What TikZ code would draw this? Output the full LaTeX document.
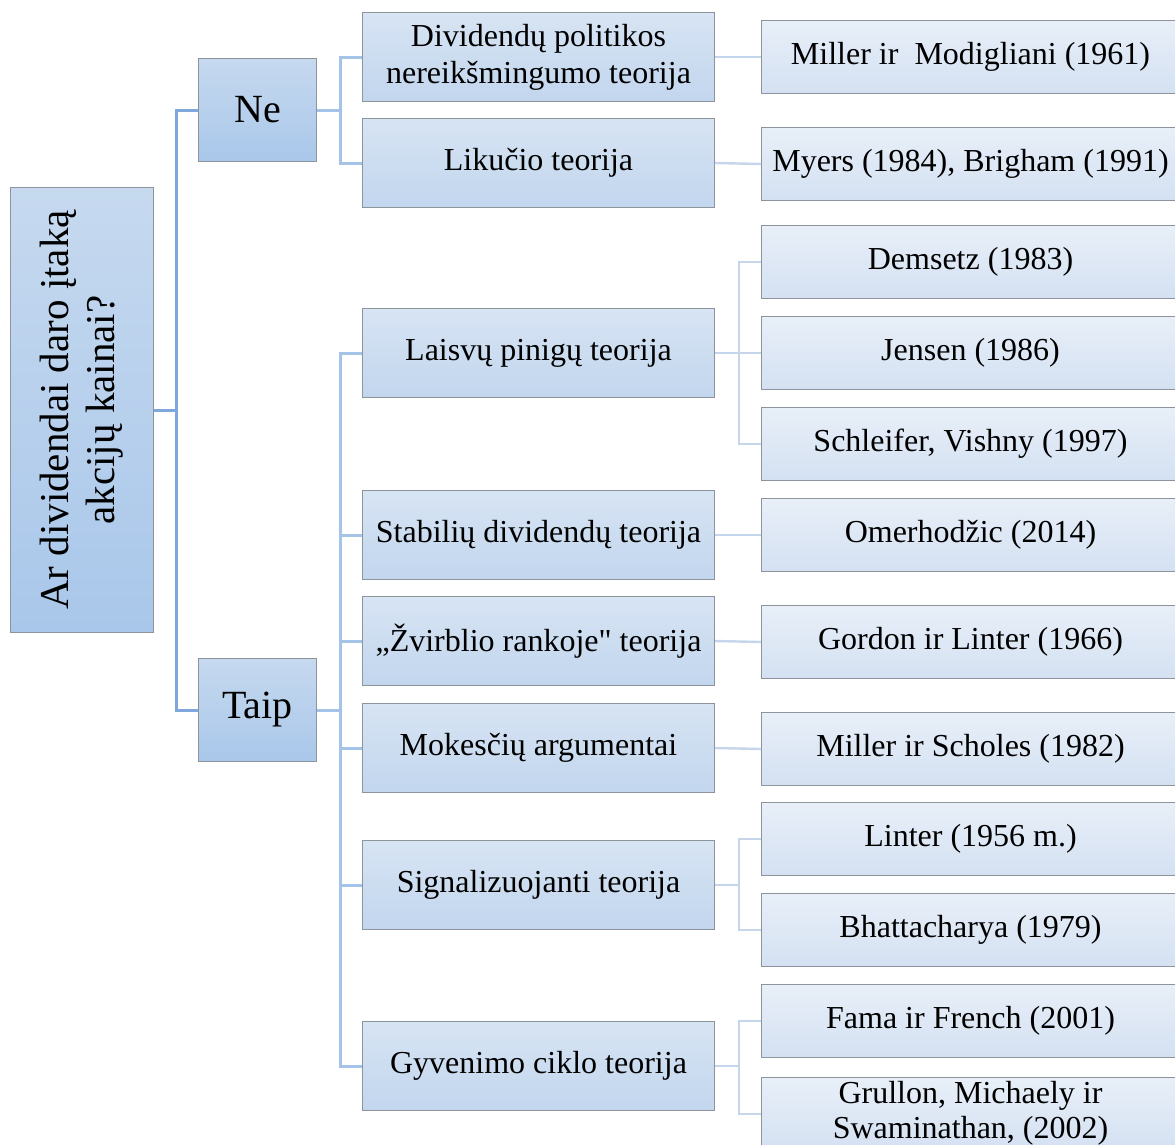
\documentclass[tikz,border=0pt]{standalone}
\usepackage{fontspec}
\setmainfont{Liberation Serif}[Ligatures=TeXOff]
\usepackage{graphicx}
\definecolor{bord}{HTML}{8E949C}
\definecolor{conetop}{HTML}{C6D9EF}
\definecolor{conebot}{HTML}{A9C7EA}
\definecolor{ctwotop}{HTML}{D7E4F3}
\definecolor{ctwobot}{HTML}{C2D6EE}
\definecolor{cthrtop}{HTML}{E8EFF8}
\definecolor{cthrbot}{HTML}{D4E1F2}
\definecolor{lnone}{HTML}{7EA8DB}
\definecolor{lntwo}{HTML}{A5C2E7}
\definecolor{lnthr}{HTML}{C4D5EC}
\begin{document}
\begin{tikzpicture}[x=1pt,y=-1pt,
  box/.style={draw=bord, line width=1pt, anchor=north west, inner sep=2pt, align=center, text=black},
  rootbox/.style={box, top color=conetop, bottom color=conebot, minimum width=143pt, minimum height=445pt, font=\fontsize{41}{46}\selectfont},
  onebox/.style={box, top color=conetop, bottom color=conebot, minimum width=118pt, minimum height=103pt, font=\fontsize{40}{46}\selectfont},
  twobox/.style={box, top color=ctwotop, bottom color=ctwobot, minimum width=352pt, minimum height=89pt, font=\fontsize{32}{37}\selectfont},
  thrbox/.style={box, top color=cthrtop, bottom color=cthrbot, minimum width=418pt, minimum height=73pt, font=\fontsize{32}{37}\selectfont},
  plaintxt/.style={inner sep=0pt, align=center, text=black, font=\fontsize{32}{35}\selectfont},
  lineone/.style={draw=lnone, line width=3pt},
  linetwo/.style={draw=lntwo, line width=3pt},
  linethr/.style={draw=lnthr, line width=2.4pt}
]
\useasboundingbox (0,0) rectangle (1175,1144);

% root
\node[rootbox] (root) at (10,187) {\rotatebox{90}{\begin{tabular}{@{}c@{}}Ar dividendai daro įtaką\\akcijų kainai?\end{tabular}}};

% level 1
\node[onebox] (ne) at (198,58) {Ne};
\node[onebox] (taip) at (198,658) {Taip};

% level 2
\node[twobox] (div) at (362,12) {Dividendų politikos\\nereikšmingumo teorija};
\node[twobox] (lik) at (362,118) {Likučio teorija};
\node[twobox] (lp) at (362,308) {Laisvų pinigų teorija};
\node[twobox] (stab) at (362,490) {Stabilių dividendų teorija};
\node[twobox] (zv) at (362,596) {„Žvirblio rankoje" teorija};
\node[twobox] (mok) at (362,703) {Mokesčių argumentai};
\node[twobox] (sig) at (362,840) {Signalizuojanti teorija};
\node[twobox] (gyv) at (362,1021) {Gyvenimo ciklo teorija};

% level 3
\node[thrbox] (mm) at (761,20) {Miller ir~ Modigliani (1961)};
\node[thrbox] (my) at (761,127) {Myers (1984), Brigham (1991)};
\node[thrbox] (dem) at (761,225) {Demsetz (1983)};
\node[thrbox] (jen) at (761,316) {Jensen (1986)};
\node[thrbox] (sch) at (761,407) {Schleifer, Vishny (1997)};
\node[thrbox] (om) at (761,498) {Omerhodžic (2014)};
\node[thrbox] (gl) at (761,605) {Gordon ir Linter (1966)};
\node[thrbox] (ms) at (761,712) {Miller ir Scholes (1982)};
\node[thrbox] (lin) at (761,802) {Linter (1956 m.)};
\node[thrbox] (bh) at (761,893) {Bhattacharya (1979)};
\node[thrbox] (fama) at (761,984) {Fama ir French (2001)};
\node[thrbox] (gru) at (761,1077) {};
\node[plaintxt] (grutxt) at ([yshift=1pt]gru.center) {Grullon, Michaely ir\\Swaminathan, (2002)};

% connectors: root -> level 1
\draw[lineone] (root.east) -- ++(22,0) |- (ne.west);
\draw[lineone] (root.east) -- ++(22,0) |- (taip.west);

% level 1 -> level 2
\draw[linetwo] (ne.east) -- ++(23,0) |- (div.west);
\draw[linetwo] (ne.east) -- ++(23,0) |- (lik.west);
\foreach \t in {lp,stab,zv,mok,sig,gyv}{
  \draw[linetwo] (taip.east) -- ++(23,0) |- (\t.west);
}

% level 2 -> level 3
\draw[linethr] (div.east) -- (mm.west);
\draw[linethr] (lik.east) -- (my.west);
\draw[linethr] (lp.east) -- (jen.west);
\draw[linethr] (lp.east) -- ++(24,0) |- (dem.west);
\draw[linethr] (lp.east) -- ++(24,0) |- (sch.west);
\draw[linethr] (stab.east) -- (om.west);
\draw[linethr] (zv.east) -- (gl.west);
\draw[linethr] (mok.east) -- (ms.west);
\draw[linethr] (sig.east) -- ++(24,0) |- (lin.west);
\draw[linethr] (sig.east) -- ++(24,0) |- (bh.west);
\draw[linethr] (gyv.east) -- ++(24,0) |- (fama.west);
\draw[linethr] (gyv.east) -- ++(24,0) |- (gru.west);
\end{tikzpicture}
\end{document}
